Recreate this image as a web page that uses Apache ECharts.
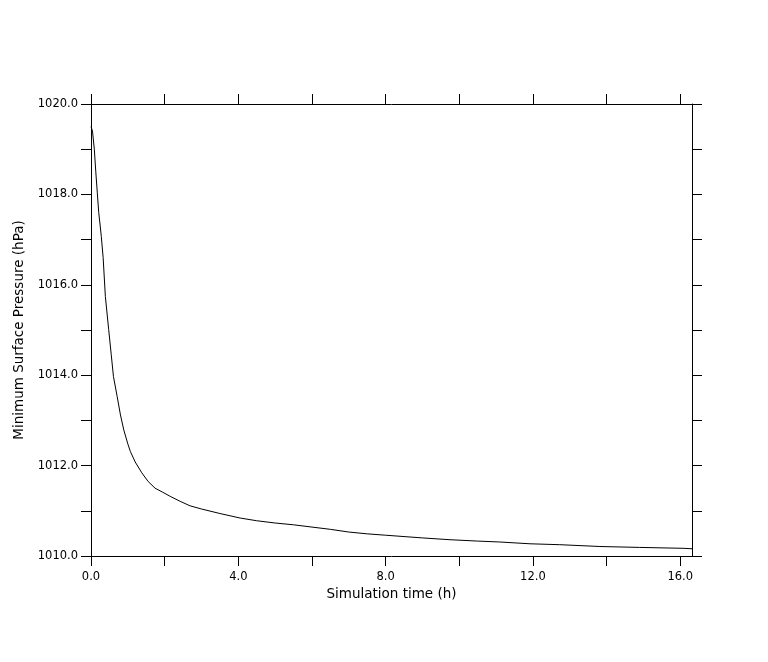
<!DOCTYPE html>
<html>
<head>
<meta charset="utf-8">
<script src="https://cdn.jsdelivr.net/npm/echarts@6/dist/echarts.min.js"></script>
<style>html,body{margin:0;padding:0;background:#fff;}#chart{width:768px;height:662px;}</style>
</head>
<body>
<div id="chart"></div>
<script>
var times = [0, 0.04, 0.09, 0.13, 0.17, 0.21, 0.25, 0.28, 0.33, 0.39, 0.48, 0.55, 0.61, 0.71, 0.8, 0.89, 1.0, 1.07, 1.2, 1.38, 1.55, 1.74, 1.95, 2.15, 2.42, 2.69, 3.0, 3.5, 4.05, 4.5, 5.0, 5.5, 6.0, 6.5, 7.0, 7.5, 8.0, 8.5, 9.0, 9.75, 10.5, 11.1, 11.92, 12.73, 13.82, 14.9, 16.1, 16.32];
var pressure = [1019.5, 1019.4, 1019.0, 1018.5, 1018.05, 1017.6, 1017.3, 1017.07, 1016.6, 1015.74, 1015.01, 1014.45, 1013.97, 1013.53, 1013.12, 1012.79, 1012.48, 1012.31, 1012.08, 1011.84, 1011.65, 1011.5, 1011.41, 1011.32, 1011.21, 1011.11, 1011.04, 1010.94, 1010.84, 1010.78, 1010.73, 1010.69, 1010.64, 1010.59, 1010.53, 1010.49, 1010.46, 1010.43, 1010.4, 1010.36, 1010.33, 1010.31, 1010.27, 1010.25, 1010.21, 1010.19, 1010.17, 1010.16];
var xTicks = [0, 2, 4, 6, 8, 10, 12, 14, 16];
var xLabels = [0, 4, 8, 12, 16];
var yTicks = [1010, 1011, 1012, 1013, 1014, 1015, 1016, 1017, 1018, 1019, 1020];
var yLabels = [1010, 1012, 1014, 1016, 1018, 1020];

var data = times.map(function (t, i) { return [t, pressure[i]]; });
var font = 'DejaVu Sans';
var lineStyle = { color: '#000', width: 1 };
function axisCommon() {
  return {
    axisLine: { show: true, onZero: false, lineStyle: lineStyle },
    axisTick: { show: true, inside: false, length: 10, lineStyle: lineStyle },
    splitLine: { show: false }
  };
}
var xb = Object.assign(axisCommon(), {
  type: 'value', position: 'bottom', min: 0, max: 16.32,
  name: 'Simulation time (h)', nameLocation: 'middle', nameGap: 31,
  nameTextStyle: { color: '#000', fontFamily: font, fontSize: 13.5 },
  axisLabel: { customValues: xLabels, color: '#000', fontFamily: font, fontSize: 11.5, margin: 15,
    formatter: function (v) { return v.toFixed(1); } }
});
xb.axisTick.customValues = xTicks;
var xt = Object.assign(axisCommon(), {
  type: 'value', position: 'top', min: 0, max: 16.32,
  axisLabel: { show: false }
});
xt.axisTick.customValues = xTicks;
var yl = Object.assign(axisCommon(), {
  type: 'value', position: 'left', min: 1010, max: 1020,
  name: 'Minimum Surface Pressure (hPa)', nameLocation: 'middle', nameGap: 61,
  nameTextStyle: { color: '#000', fontFamily: font, fontSize: 13.5 },
  axisLabel: { customValues: yLabels, color: '#000', fontFamily: font, fontSize: 11.5, margin: 13,
    formatter: function (v) { return v.toFixed(1); } }
});
yl.axisTick.customValues = yTicks;
var yr = Object.assign(axisCommon(), {
  type: 'value', position: 'right', min: 1010, max: 1020,
  axisLabel: { show: false }
});
yr.axisTick.customValues = yTicks;

var chart = echarts.init(document.getElementById('chart'), null, { renderer: 'canvas' });
chart.setOption({
  animation: false,
  backgroundColor: '#fff',
  grid: { left: 91, right: 76, top: 104, bottom: 106, containLabel: false },
  xAxis: [xb, xt],
  yAxis: [yl, yr],
  series: [{
    type: 'line', data: data, xAxisIndex: 0, yAxisIndex: 0,
    showSymbol: false, symbol: 'none', smooth: false,
    lineStyle: { color: '#000', width: 1 }
  }]
});
</script>
</body>
</html>
